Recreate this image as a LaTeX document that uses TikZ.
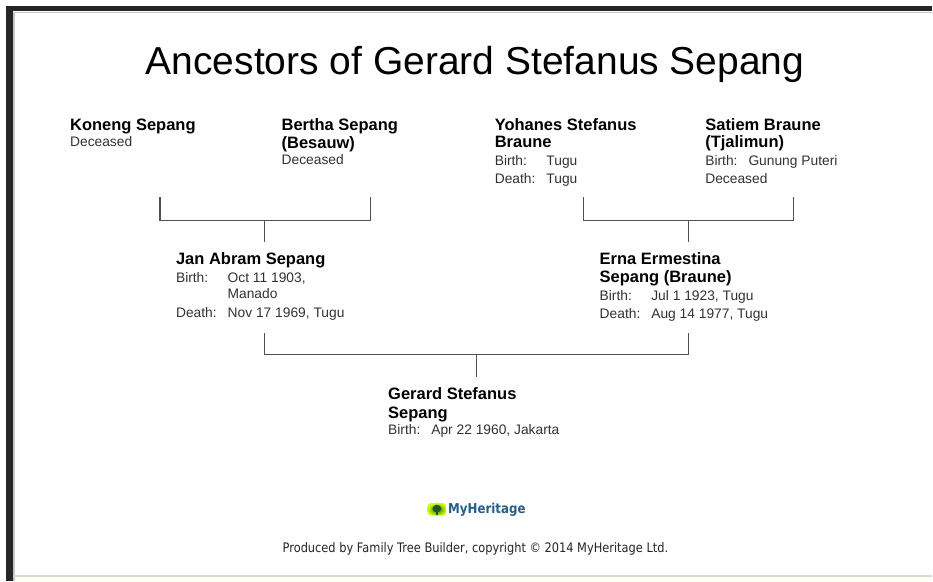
\documentclass[tikz,border=0pt]{standalone}
\usepackage{fontspec}
\setmainfont{Liberation Sans}
\newfontfamily\tahomafont{DejaVu Sans}[FakeStretch=0.87]
\definecolor{linegray}{RGB}{80,80,80}
\definecolor{textgray}{RGB}{50,50,50}
\definecolor{mhblue}{RGB}{35,95,135}
\definecolor{mhgreen}{RGB}{40,110,40}
\definecolor{framedark}{RGB}{40,38,36}
\definecolor{frameedge}{RGB}{215,222,200}
\newcommand{\namefont}{\fontsize{16.5}{18}\selectfont\bfseries}
\newcommand{\pname}[1]{\multicolumn{2}{@{}l@{}}{\namefont\color{black}#1}}
\newcommand{\pline}[1]{\multicolumn{2}{@{}l@{}}{#1}}
\newenvironment{pdata}{\begin{tabular}[t]{@{}l@{\hspace{11pt}}l@{}}}{\end{tabular}}
\tikzset{person/.style={anchor=base west, inner sep=0pt, text=textgray,
           font=\fontsize{13.8}{18}\selectfont},
         tree/.style={draw=linegray, line width=1.3pt},
         title/.style={anchor=base, inner sep=0pt, font=\fontsize{39}{47}\selectfont}}

\begin{document}
\begin{tikzpicture}[x=1pt, y=-1pt]

	\fill[white] (0,0) rectangle (933,581);
	% scan frame
	\fill[framedark] (6.5,6) rectangle (933,11.5);
	\fill[framedark] (6.5,6) rectangle (13,581);
	\draw[gray!45, line width=1.5pt] (13.8,12.3) -- (933,12.3);
	\draw[gray!45, line width=1.5pt] (13.8,12.3) -- (13.8,581);
	\draw[frameedge, line width=1.5pt] (14.5,576.5) -- (933,576.5);

	\node[title] (title) at (475.5,75) {Ancestors of Gerard Stefanus Sepang};

	\node[person] (koneng) at (70,131) {\begin{pdata}
		\pname{Koneng Sepang}\\[-2pt]
		\pline{Deceased}
	\end{pdata}};
	\node[person] (bertha) at (281.7,131) {\begin{pdata}
		\pname{Bertha Sepang}\\
		\pname{(Besauw)}\\[-2pt]
		\pline{Deceased}
	\end{pdata}};
	\node[person] (yohanes) at (495,130.5) {\begin{pdata}
		\pname{Yohanes Stefanus}\\[-1pt]
		\pname{Braune}\\
		Birth: & Tugu\\
		Death: & Tugu
	\end{pdata}};
	\node[person] (satiem) at (705.7,130.5) {\begin{pdata}
		\pname{Satiem Braune}\\[-1pt]
		\pname{(Tjalimun)}\\
		Birth: & Gunung Puteri\\
		\pline{Deceased}
	\end{pdata}};
	\node[person] (jan) at (176,265) {\begin{pdata}
		\pname{Jan Abram Sepang}\\
		Birth: & Oct 11 1903,\\[-2.5pt]
		       & Manado\\[1pt]
		Death: & Nov 17 1969, Tugu
	\end{pdata}};
	\node[person] (erna) at (600,265) {\begin{pdata}
		\pname{Erna Ermestina}\\
		\pname{Sepang (Braune)}\\
		Birth: & Jul 1 1923, Tugu\\
		Death: & Aug 14 1977, Tugu
	\end{pdata}};
	\node[person] (gerard) at (388.3,400) {\begin{pdata}
		\pname{Gerard Stefanus}\\[1pt]
		\pname{Sepang}\\[-2.5pt]
		Birth: & Apr 22 1960, Jakarta
	\end{pdata}};

	% bracket ends
	\coordinate (koneng-c) at (160,197);
	\coordinate (bertha-c) at (370.7,197);
	\coordinate (u-jan) at (265,221);
	\coordinate (jan-top) at (265,242);
	\coordinate (yohanes-c) at (584.3,197);
	\coordinate (satiem-c) at (794,197);
	\coordinate (u-erna) at (689,221);
	\coordinate (erna-top) at (689,242);
	\coordinate (jan-c) at (265,333.3);
	\coordinate (erna-c) at (689,333.3);
	\coordinate (u-gerard) at (477,355);
	\coordinate (gerard-top) at (477,377.3);
	\foreach \fa/\mo/\u/\ch in {koneng-c/bertha-c/u-jan/jan-top,
	                            yohanes-c/satiem-c/u-erna/erna-top,
	                            jan-c/erna-c/u-gerard/gerard-top}
	{
		\draw[tree] (\fa) |- (\u) -| (\mo);
		\draw[tree] (\u) -- (\ch);
	}

	% footer
	\shade[inner color=mhgreen, outer color=yellow!80!green, rounded corners=3.5pt]
		(428,503.5) rectangle (446.5,516);
	\fill[mhgreen!80!black] (437.2,509) ellipse (4.5pt and 3.8pt);
	\fill[mhgreen!80!black] (436.2,511) rectangle (438.2,515);
	\node[anchor=base west, inner sep=0pt, text=mhblue, font=\tahomafont\fontsize{13.6}{16}\selectfont\bfseries]
		(mhname) at (448.3,514) {MyHeritage};
	\node[anchor=base, inner sep=0pt, text=black!85, font=\tahomafont\fontsize{13.1}{15}\selectfont]
		(credit) at (475.8,552.5) {Produced by Family Tree Builder, copyright © 2014 MyHeritage Ltd.};

\end{tikzpicture}
\end{document}
